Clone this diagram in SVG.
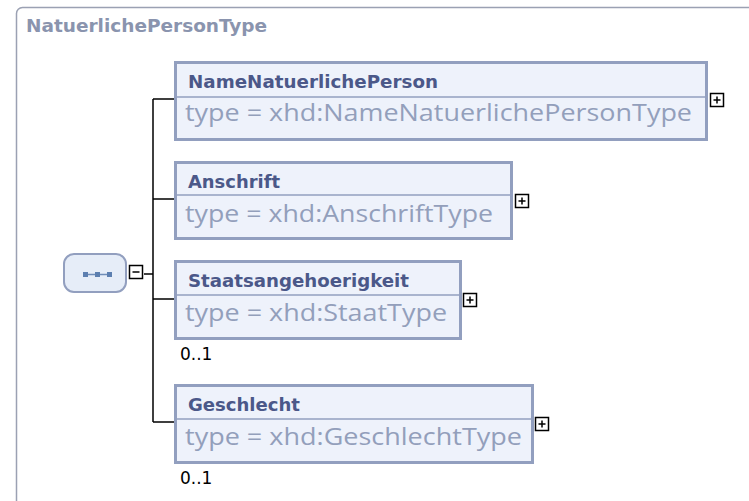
<svg xmlns="http://www.w3.org/2000/svg" width="749" height="501" viewBox="0 0 749 501">
<style>
.frame{fill:#ffffff;stroke:#9ba1b3;stroke-width:1.5}
.box{fill:#eef2fb;stroke:#929fbf;stroke-width:3}
.div{stroke:#929fbf;stroke-width:1.5}
.title{font-family:"DejaVu Sans Condensed","DejaVu Sans",Verdana,sans-serif;font-weight:bold;font-size:18px;fill:#4b5889}
.type{font-family:"Open Sans","Noto Sans",sans-serif;font-size:24px;fill:#939fbb}
.ftitle{font-family:"DejaVu Sans Condensed","DejaVu Sans",Verdana,sans-serif;font-weight:bold;font-size:18px;fill:#8a94ae}
.occ{font-family:"DejaVu Sans",Verdana,sans-serif;font-size:17px;fill:#000}
.pm{fill:#fff;stroke:#000;stroke-width:1.5}
.pmg{stroke:#000;stroke-width:1.5}
.conn{fill:none;stroke:#000;stroke-width:1.5}
</style>
<rect width="749" height="501" fill="#ffffff"/>
<g id="frame">
<rect class="frame" x="16.5" y="7.5" width="760" height="520" rx="6"/>
<text class="ftitle" x="26" y="32" textLength="241" lengthAdjust="spacingAndGlyphs">NatuerlichePersonType</text>
</g>
<g id="connectors">
<path class="conn" d="M144 274 H153 M153 99 V422 M153 99 H175 M153 199 H175 M153 299 H175 M153 422 H175"/>
</g>
<g id="sequence">
<rect x="64" y="254" width="62" height="38" rx="10" fill="#e6edf8" stroke="#929fbf" stroke-width="2"/>
<line x1="85" y1="274.5" x2="110" y2="274.5" stroke="#6f8db8" stroke-width="1.5"/>
<rect x="83" y="272" width="5" height="5" fill="#5c7fb0"/>
<rect x="95" y="272" width="5" height="5" fill="#5c7fb0"/>
<rect x="107" y="272" width="5" height="5" fill="#5c7fb0"/>
<rect class="pm" x="129.5" y="265.5" width="13" height="13"/>
<line class="pmg" x1="132.5" y1="272" x2="139.5" y2="272"/>
</g>
<g id="NameNatuerlichePerson">
<rect class="box" x="175.5" y="62.5" width="531" height="77"/>
<line class="div" x1="177" y1="97" x2="705" y2="97"/>
<text class="title" x="188" y="88" textLength="250" lengthAdjust="spacingAndGlyphs">NameNatuerlichePerson</text>
<text class="type" x="185" y="121" textLength="507" lengthAdjust="spacingAndGlyphs">type = xhd:NameNatuerlichePersonType</text>
<rect class="pm" x="710.5" y="93.5" width="13" height="13"/>
<path class="pmg" d="M713.5 100 H720.5 M717 96.5 V103.5"/>
</g>
<g id="Anschrift">
<rect class="box" x="175.5" y="162.5" width="336" height="76"/>
<line class="div" x1="177" y1="195" x2="510" y2="195"/>
<text class="title" x="188" y="188" textLength="92" lengthAdjust="spacingAndGlyphs">Anschrift</text>
<text class="type" x="185" y="222" textLength="308" lengthAdjust="spacingAndGlyphs">type = xhd:AnschriftType</text>
<rect class="pm" x="515.5" y="194.5" width="13" height="13"/>
<path class="pmg" d="M518.5 201 H525.5 M522 197.5 V204.5"/>
</g>
<g id="Staatsangehoerigkeit">
<rect class="box" x="175.5" y="261.5" width="285" height="77"/>
<line class="div" x1="177" y1="295" x2="459" y2="295"/>
<text class="title" x="188" y="287" textLength="221" lengthAdjust="spacingAndGlyphs">Staatsangehoerigkeit</text>
<text class="type" x="185" y="321" textLength="262" lengthAdjust="spacingAndGlyphs">type = xhd:StaatType</text>
<rect class="pm" x="463.5" y="293.5" width="13" height="13"/>
<path class="pmg" d="M466.5 300 H473.5 M470 296.5 V303.5"/>
<text class="occ" x="180" y="360">0..1</text>
</g>
<g id="Geschlecht">
<rect class="box" x="175.5" y="385.5" width="357" height="77"/>
<line class="div" x1="177" y1="419" x2="531" y2="419"/>
<text class="title" x="188" y="411" textLength="112" lengthAdjust="spacingAndGlyphs">Geschlecht</text>
<text class="type" x="185" y="445" textLength="337" lengthAdjust="spacingAndGlyphs">type = xhd:GeschlechtType</text>
<rect class="pm" x="535.5" y="417.5" width="13" height="13"/>
<path class="pmg" d="M538.5 424 H545.5 M542 420.5 V427.5"/>
<text class="occ" x="180" y="484">0..1</text>
</g>
</svg>
